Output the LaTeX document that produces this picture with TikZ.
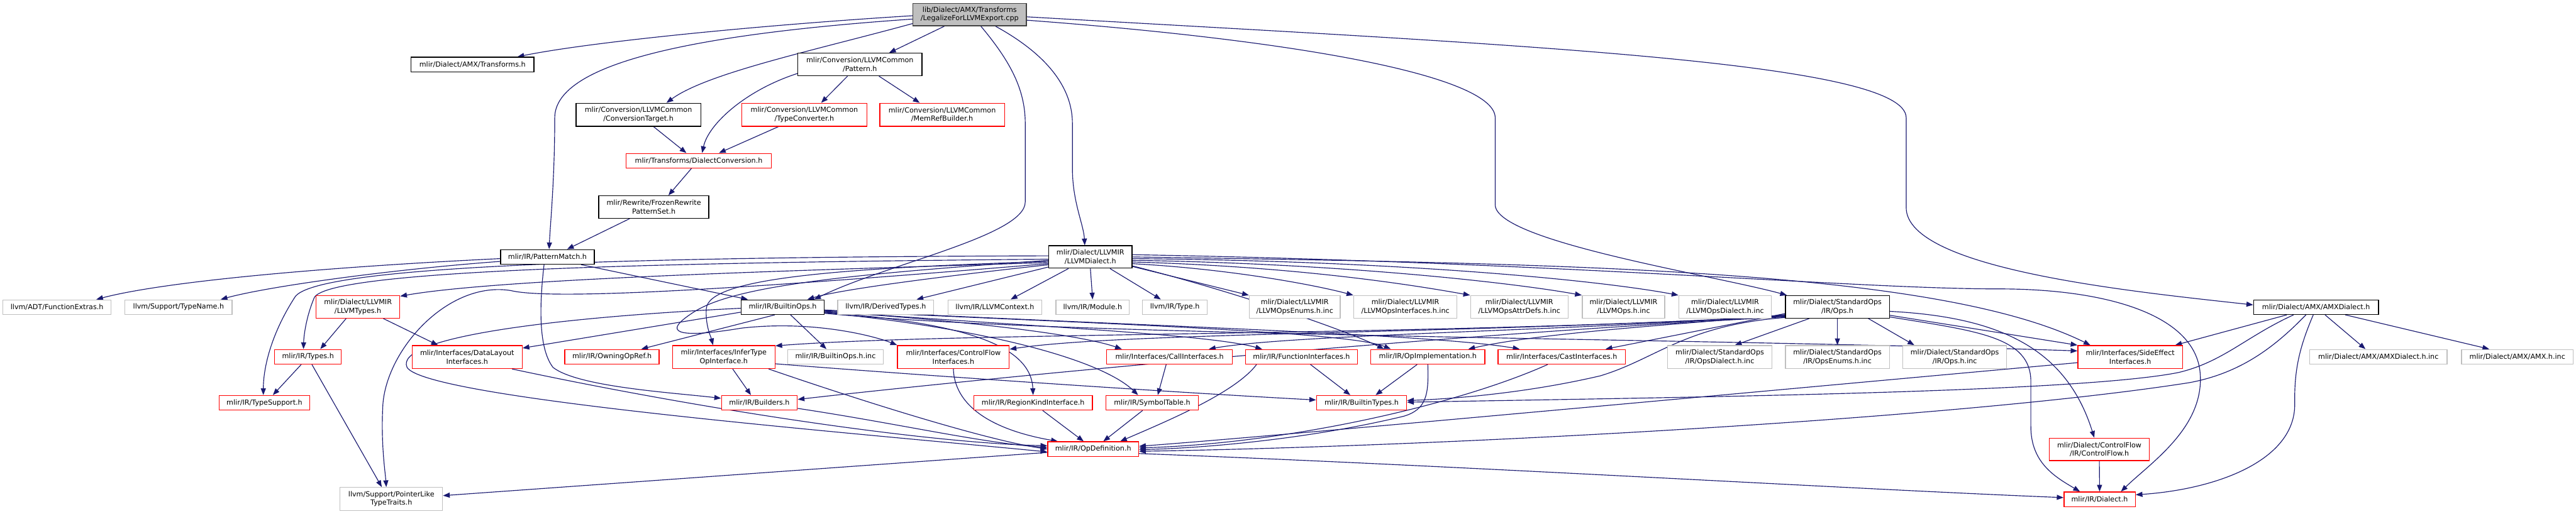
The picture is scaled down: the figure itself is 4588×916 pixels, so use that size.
\documentclass[tikz,border=0pt]{standalone}
\usepackage{fontspec}
\setmainfont{DejaVu Sans}
\usetikzlibrary{arrows.meta}
\definecolor{edgec}{HTML}{191970}
\definecolor{nred}{HTML}{FF0000}
\definecolor{ngray}{HTML}{BFBFBF}
\definecolor{rootdraw}{HTML}{404040}
\pgfdeclarelayer{edgelayer}
\pgfsetlayers{edgelayer,main}
\begin{document}
\begin{tikzpicture}[x=1pt,y=-1pt,
  bx/.style={rectangle, inner sep=0pt, align=center, line width=1.5pt, font=\fontsize{12.5}{15}\selectfont, fill=white},
  nb/.style={bx, draw=black},
  nr/.style={bx, draw=nred},
  ng/.style={bx, draw=ngray},
  nroot/.style={bx, draw=rootdraw, fill=ngray},
  e/.style={draw=edgec, line width=1.3pt, -{Triangle[length=12pt,width=9pt]}}]
\useasboundingbox (0,0) rectangle (4588,916);
% ---------- nodes ----------
\node[nroot, minimum width=202pt, minimum height=40pt] (R) at (1727,26) {lib/Dialect/AMX/Transforms\\/LegalizeForLLVMExport.cpp};
\node[nb, minimum width=219pt, minimum height=26pt] (AMXT) at (841.5,115) {mlir/Dialect/AMX/Transforms.h};
\node[nb, minimum width=221pt, minimum height=40pt] (PAT) at (1531.5,115) {mlir/Conversion/LLVMCommon\\/Pattern.h};
\node[nb, minimum width=222pt, minimum height=41pt] (CT) at (1137,204.5) {mlir/Conversion/LLVMCommon\\/ConversionTarget.h};
\node[nr, minimum width=223pt, minimum height=41pt] (TC) at (1432.5,204.5) {mlir/Conversion/LLVMCommon\\/TypeConverter.h};
\node[nr, minimum width=222pt, minimum height=41pt] (MRB) at (1678,204.5) {mlir/Conversion/LLVMCommon\\/MemRefBuilder.h};
\node[nr, minimum width=259pt, minimum height=26pt] (DC) at (1244.5,286.5) {mlir/Transforms/DialectConversion.h};
\node[nb, minimum width=196pt, minimum height=40pt] (FR) at (1164.5,369) {mlir/Rewrite/FrozenRewrite\\PatternSet.h};
\node[nb, minimum width=167pt, minimum height=26pt] (PM) at (975,458) {mlir/IR/PatternMatch.h};
\node[nb, minimum width=148pt, minimum height=40pt] (LD) at (1942,458) {mlir/Dialect/LLVMIR\\/LLVMDialect.h};
% row 2
\node[ng, minimum width=193pt, minimum height=26pt] (FE) at (101.5,547.5) {llvm/ADT/FunctionExtras.h};
\node[ng, minimum width=191pt, minimum height=26pt] (TN) at (318,547.5) {llvm/Support/TypeName.h};
\node[nr, minimum width=149pt, minimum height=40pt] (LT) at (637.5,547) {mlir/Dialect/LLVMIR\\/LLVMTypes.h};
\node[nb, minimum width=148pt, minimum height=26pt] (BO) at (1394,547.5) {mlir/IR/BuiltinOps.h};
\node[ng, minimum width=171pt, minimum height=26pt] (DT) at (1577.5,547.5) {llvm/IR/DerivedTypes.h};
\node[ng, minimum width=167.5pt, minimum height=26pt] (LC) at (1772,547.5) {llvm/IR/LLVMContext.h};
\node[ng, minimum width=130.5pt, minimum height=26pt] (MOD) at (1946,547.5) {llvm/IR/Module.h};
\node[ng, minimum width=115pt, minimum height=26pt] (TYP) at (2092.5,547.5) {llvm/IR/Type.h};
\node[ng, minimum width=162pt, minimum height=40pt] (OE) at (2306,547) {mlir/Dialect/LLVMIR\\/LLVMOpsEnums.h.inc};
\node[ng, minimum width=184pt, minimum height=40pt] (OIF) at (2503,547) {mlir/Dialect/LLVMIR\\/LLVMOpsInterfaces.h.inc};
\node[ng, minimum width=174pt, minimum height=40pt] (OA) at (2706,547) {mlir/Dialect/LLVMIR\\/LLVMOpsAttrDefs.h.inc};
\node[ng, minimum width=147pt, minimum height=40pt] (LO) at (2891.5,547) {mlir/Dialect/LLVMIR\\/LLVMOps.h.inc};
\node[ng, minimum width=165pt, minimum height=40pt] (LOD) at (3072.5,547) {mlir/Dialect/LLVMIR\\/LLVMOpsDialect.h.inc};
\node[nb, minimum width=185pt, minimum height=40pt] (SO) at (3272.5,547) {mlir/Dialect/StandardOps\\/IR/Ops.h};
\node[nb, minimum width=222.5pt, minimum height=26pt] (AD) at (4125,547.5) {mlir/Dialect/AMX/AMXDialect.h};
% row 3
\node[nr, minimum width=119pt, minimum height=26pt] (TY) at (548.5,636) {mlir/IR/Types.h};
\node[nr, minimum width=196pt, minimum height=41pt] (DL) at (832,636.5) {mlir/Interfaces/DataLayout\\Interfaces.h};
\node[nr, minimum width=168pt, minimum height=26pt] (OOR) at (1090,636) {mlir/IR/OwningOpRef.h};
\node[nr, minimum width=182.5pt, minimum height=41pt] (IT) at (1289,636.5) {mlir/Interfaces/InferType\\OpInterface.h};
\node[ng, minimum width=170.5pt, minimum height=26pt] (BOI) at (1488,636) {mlir/IR/BuiltinOps.h.inc};
\node[nr, minimum width=199pt, minimum height=41pt] (CFI) at (1698,636.5) {mlir/Interfaces/ControlFlow\\Interfaces.h};
\node[nr, minimum width=224pt, minimum height=26pt] (CALL) at (2083,636) {mlir/Interfaces/CallInterfaces.h};
\node[nr, minimum width=200pt, minimum height=26pt] (FI) at (2318,636) {mlir/IR/FunctionInterfaces.h};
\node[nr, minimum width=203pt, minimum height=26pt] (OI) at (2543,636) {mlir/IR/OpImplementation.h};
\node[nr, minimum width=227pt, minimum height=26pt] (CAST) at (2781.5,636) {mlir/Interfaces/CastInterfaces.h};
\node[ng, minimum width=185.5pt, minimum height=41pt] (SOD) at (3063,636.5) {mlir/Dialect/StandardOps\\/IR/OpsDialect.h.inc};
\node[ng, minimum width=185pt, minimum height=41pt] (SOE) at (3272.5,636.5) {mlir/Dialect/StandardOps\\/IR/OpsEnums.h.inc};
\node[ng, minimum width=185pt, minimum height=41pt] (SOI) at (3481.5,636.5) {mlir/Dialect/StandardOps\\/IR/Ops.h.inc};
\node[nr, minimum width=186.5pt, minimum height=41pt] (SE) at (3794,636.5) {mlir/Interfaces/SideEffect\\Interfaces.h};
\node[ng, minimum width=245pt, minimum height=26pt] (ADI) at (4236,636) {mlir/Dialect/AMX/AMXDialect.h.inc};
\node[ng, minimum width=199pt, minimum height=26pt] (AMXI) at (4483.5,636) {mlir/Dialect/AMX/AMX.h.inc};
% row 4
\node[nr, minimum width=161.5pt, minimum height=26pt] (TS) at (471,718) {mlir/IR/TypeSupport.h};
\node[nr, minimum width=135pt, minimum height=26pt] (BLD) at (1352.5,718) {mlir/IR/Builders.h};
\node[nr, minimum width=211.5pt, minimum height=26pt] (RK) at (1840,718) {mlir/IR/RegionKindInterface.h};
\node[nr, minimum width=164pt, minimum height=26pt] (ST) at (2052,718) {mlir/IR/SymbolTable.h};
\node[nr, minimum width=160.5pt, minimum height=26pt] (BT) at (2425,718) {mlir/IR/BuiltinTypes.h};
% row 5/6
\node[nr, minimum width=162pt, minimum height=26pt] (OD) at (1947,800.5) {mlir/IR/OpDefinition.h};
\node[nr, minimum width=178.5pt, minimum height=40pt] (CF) at (3739,801) {mlir/Dialect/ControlFlow\\/IR/ControlFlow.h};
\node[ng, minimum width=182.5pt, minimum height=41pt] (PL) at (697,889.5) {llvm/Support/PointerLike\\TypeTraits.h};
\node[nr, minimum width=127pt, minimum height=26pt] (DI) at (3739.5,890) {mlir/IR/Dialect.h};
% ---------- edges ----------
\begin{pgfonlayer}{edgelayer}
% root
\draw[e] ([yshift=-2pt]R.west) .. controls (1350,45) and (1050,75) .. ([xshift=80pt]AMXT.north);
\draw[e] ([yshift=-8pt]R.west) .. controls (1250,60) and (988,110) .. (988,210) .. controls (988,320) and (980,400) .. ([xshift=3pt]PM.north);
\draw[e] ([yshift=-16pt]R.west) .. controls (1450,90) and (1260,130) .. ([xshift=50pt]CT.north);
\draw[e] ([xshift=-45pt]R.south) -- ([xshift=52pt]PAT.north);
\draw[e] ([xshift=20pt]R.south) .. controls (1800,110) and (1826,160) .. (1826,220) -- (1826,360) .. controls (1826,420) and (1580,470) .. ([xshift=56pt]BO.north);
\draw[e] ([xshift=46pt]R.south) .. controls (1870,100) and (1910,160) .. (1910,220) -- (1910,300) .. controls (1910,360) and (1930,400) .. ([xshift=-10pt]LD.north);
\draw[e] ([yshift=-10pt]R.east) .. controls (2350,75) and (2663,140) .. (2663,210) -- (2663,365) .. controls (2663,430) and (3050,490) .. ([xshift=-90pt]SO.north);
\draw[e] ([yshift=-4pt]R.east) .. controls (2700,80) and (3395,110) .. (3395,210) -- (3395,370) .. controls (3395,480) and (3800,520) .. ([yshift=4pt]AD.west);
% conversion
\draw[e] ([xshift=-22pt]PAT.south) -- ([xshift=30pt]TC.north);
\draw[e] ([xshift=34pt]PAT.south) -- ([xshift=-40pt]MRB.north);
\draw[e] ([yshift=-16pt]PAT.west) .. controls (1330,160) and (1262,220) .. ([xshift=6pt]DC.north);
\draw[e] ([xshift=27pt]CT.south) -- ([xshift=-22pt]DC.north);
\draw[e] ([xshift=-46pt]TC.south) -- ([xshift=36pt]DC.north);
\draw[e] ([xshift=-13pt]DC.south) -- ([xshift=26pt]FR.north);
\draw[e] ([xshift=-43pt]FR.south) -- ([xshift=35pt]PM.north);
% pattern match
\draw[e] ([yshift=-3pt]PM.west) .. controls (600,475) and (300,500) .. ([xshift=70pt]FE.north);
\draw[e] ([yshift=-8pt]PM.west) .. controls (700,480) and (480,510) .. ([xshift=75pt]TN.north);
\draw[e] ([xshift=60pt]PM.south) -- ([xshift=-62pt]BO.north);
\draw[e] ([xshift=-6pt]PM.south) .. controls (961,540) and (958,620) .. (985,655) .. controls (1030,690) and (1200,700) .. ([yshift=8pt]BLD.west);
% LLVM dialect
\draw[e] ([yshift=-10pt]LD.west) .. controls (1500,480) and (900,495) .. ([yshift=19pt]LT.east);
\draw[e] ([yshift=-4pt]LD.west) .. controls (1200,468) and (590,480) .. (560,530) .. controls (545,565) and (541,600) .. ([xshift=-8pt]TY.north);
\draw[e] ([yshift=2pt]LD.west) .. controls (1200,458) and (560,470) .. (525,530) .. controls (480,600) and (469,660) .. ([xshift=-2pt]TS.north);
\draw[e] ([yshift=-14pt]LD.west) .. controls (1700,490) and (1500,515) .. ([xshift=44pt]BO.north);
\draw[e] ([yshift=-18pt]LD.west) -- ([xshift=55pt]DT.north);
\draw[e] ([xshift=-39pt]LD.south) -- ([xshift=28pt]LC.north);
\draw[e] (LD.south) -- (MOD.north);
\draw[e] ([xshift=35pt]LD.south) -- ([xshift=-25pt]TYP.north);
\draw[e] ([yshift=-17pt]LD.east) -- (OE.north west);
\draw[e] ([yshift=-12pt]LD.east) .. controls (2200,480) and (2350,510) .. (OIF.north west);
\draw[e] ([yshift=-9pt]LD.east) .. controls (2300,475) and (2500,505) .. (OA.north west);
\draw[e] ([yshift=-6pt]LD.east) .. controls (2400,470) and (2700,505) .. (LO.north west);
\draw[e] ([yshift=-3pt]LD.east) .. controls (2500,465) and (2850,500) .. (LOD.north west);
\draw[e] (LD.east) .. controls (2800,470) and (3450,480) .. ([xshift=-71pt]SE.north);
\draw[e] ([yshift=4pt]LD.east) .. controls (2800,468) and (3300,515) .. (3560,515) .. controls (3750,515) and (3905,560) .. (3918,660) .. controls (3930,760) and (3830,825) .. ([xshift=38pt]DI.north);
\draw[e] ([yshift=-6pt]LD.west) .. controls (1500,490) and (1300,510) .. (1230,560) .. controls (1170,600) and (1230,600) .. (1320,585) .. controls (1450,570) and (1560,600) .. (CFI.north west);
\draw[e] ([yshift=-8pt]LD.west) .. controls (1500,478) and (1262,495) .. (1258,550) .. controls (1256,580) and (1266,600) .. ([xshift=-19pt]IT.north);
\draw[e] ([yshift=-16pt]LD.east) .. controls (2200,520) and (2400,590) .. ([xshift=-78pt]OI.north);
\draw[e] ([yshift=-12pt]LD.west) .. controls (1500,500) and (1000,540) .. (910,518) .. controls (800,500) and (690,620) .. (682,720) .. controls (678,790) and (686,840) .. ([xshift=-9pt]PL.north);
% builtin ops
\draw[e] ([xshift=-14pt]BO.south) -- ([xshift=52pt]OOR.north);
\draw[e] ([xshift=14pt]BO.south) -- ([xshift=-16pt]BOI.north);
\draw[e] ([yshift=-9pt]BO.west) -- ([yshift=16pt]DL.east);
\draw[e] ([yshift=-2pt]BO.west) .. controls (1000,565) and (700,600) .. (725,655) .. controls (760,710) and (1500,770) .. ([yshift=-5pt]OD.west);
\draw[e] ([yshift=-9pt]BO.east) .. controls (1700,575) and (1836,610) .. (RK.north);
\draw[e] ([yshift=-10pt]BO.east) .. controls (1750,585) and (1960,640) .. ([xshift=-25pt]ST.north);
\draw[e] ([yshift=-8pt]BO.east) .. controls (1700,570) and (1920,595) .. ([xshift=-85pt]CALL.north);
\draw[e] ([yshift=-7pt]BO.east) .. controls (1800,580) and (2150,595) .. ([xshift=-70pt]FI.north);
\draw[e] ([yshift=-6pt]BO.east) .. controls (1900,575) and (2400,590) .. ([xshift=-66pt]OI.north);
\draw[e] ([yshift=-5pt]BO.east) .. controls (2000,580) and (2550,595) .. ([xshift=-75pt]CAST.north);
\draw[e] ([yshift=-11pt]BO.east) .. controls (1900,600) and (3000,602) .. ([yshift=11pt]SE.west);
% lower levels
\draw[e] ([xshift=80pt]DL.south) .. controls (1250,730) and (1650,790) .. ([yshift=6pt]OD.west);
\draw[e] ([xshift=-21pt]LT.south) -- ([xshift=22pt]TY.north);
\draw[e] ([xshift=45pt]LT.south) -- ([xshift=-52pt]DL.north);
\draw[e] ([xshift=-12pt]TY.south) -- ([xshift=15pt]TS.north);
\draw[e] ([xshift=7pt]TY.south) -- ([xshift=-17pt]PL.north);
\draw[e] ([xshift=16pt]IT.south) -- ([xshift=-15pt]BLD.north);
\draw[e] ([yshift=-12pt]IT.east) .. controls (1650,670) and (2100,700) .. ([yshift=5pt]BT.west);
\draw[e] ([xshift=80pt]IT.south) .. controls (1550,720) and (1760,785) .. (OD.west);
\draw[e] (CFI.south) .. controls (1700,720) and (1760,765) .. ([xshift=-63pt]OD.north);
\draw[e] ([xshift=17pt]RK.south) -- ([xshift=-17pt]OD.north);
\draw[e] ([xshift=-17pt]ST.south) -- ([xshift=18pt]OD.north);
\draw[e] ([xshift=-6pt]CALL.south) -- ([xshift=10pt]ST.north);
\draw[e] ([xshift=-80pt]FI.south) .. controls (2200,700) and (2080,750) .. ([xshift=48pt]OD.north);
\draw[e] ([xshift=16pt]FI.south) -- ([xshift=-20pt]BT.north);
\draw[e] ([xshift=-19pt]OI.south) -- ([xshift=25pt]BT.north);
\draw[e] (OI.south) .. controls (2545,705) and (2540,730) .. (2500,742) .. controls (2300,790) and (2100,800) .. ([yshift=-1pt]OD.east);
\draw[e] ([xshift=-25pt]CAST.south) .. controls (2600,720) and (2300,790) .. ([yshift=2pt]OD.east);
\draw[e] ([yshift=-10pt]BLD.east) .. controls (1600,755) and (1750,790) .. ([yshift=3pt]OD.west);
\draw[e] ([yshift=-10pt]SE.west) .. controls (3000,710) and (2300,775) .. ([yshift=5pt]OD.east);
% AMX dialect
\draw[e] ([xshift=-18pt]AD.south) .. controls (4050,620) and (3990,665) .. (3900,682) .. controls (3500,745) and (2600,795) .. ([yshift=-4pt]OD.east);
\draw[e] ([xshift=-40pt]AD.south) .. controls (4000,600) and (3960,645) .. (3880,664) .. controls (3700,700) and (3000,708) .. ([yshift=1pt]BT.east);
\draw[e] ([xshift=-52pt]AD.south) -- ([xshift=80pt]SE.north);
\draw[e] ([xshift=16pt]AD.south) -- ([xshift=-23pt]ADI.north);
\draw[e] ([xshift=52pt]AD.south) -- ([xshift=-50pt]AMXI.north);
\draw[e] ([xshift=-5pt]AD.south) .. controls (4095,620) and (4086,660) .. (4087,720) .. controls (4088,820) and (3950,872) .. ([yshift=8pt]DI.east);
% standard ops
\draw[e] ([xshift=-50pt]SO.south) -- ([xshift=27pt]SOD.north);
\draw[e] (SO.south) -- (SOE.north);
\draw[e] ([xshift=55pt]SO.south) -- ([xshift=-72pt]SOI.north);
\draw[e] ([yshift=-15pt]SO.east) -- (SE.north west);
\draw[e] ([yshift=-8pt]SO.east) .. controls (3560,565) and (3680,620) .. ([xshift=-9pt]CF.north);
\draw[e] ([yshift=-18pt]SO.east) .. controls (3520,590) and (3617,600) .. (3617,680) -- (3617,760) .. controls (3617,825) and (3660,850) .. ([xshift=-35pt]DI.north);
\draw[e] ([yshift=-12pt]SO.west) -- ([xshift=78pt]CAST.north);
\draw[e] ([yshift=-14pt]SO.west) .. controls (3000,578) and (2750,592) .. ([xshift=72pt]OI.north);
\draw[e] ([yshift=-15pt]SO.west) .. controls (2800,590) and (2300,596) .. ([xshift=70pt]CALL.north);
\draw[e] ([yshift=-16pt]SO.west) .. controls (2600,596) and (2000,592) .. ([yshift=14pt]CFI.east);
\draw[e] ([yshift=-17pt]SO.west) .. controls (2500,600) and (1700,592) .. ([yshift=20pt]IT.east);
\draw[e] ([yshift=-18pt]SO.west) .. controls (2500,600) and (1700,680) .. ([yshift=6pt]BLD.east);
\draw[e] ([yshift=-19pt]SO.west) .. controls (3000,580) and (2950,640) .. (2850,670) .. controls (2700,705) and (2560,712) .. ([yshift=4pt]BT.east);
% bottom
\draw[e] (CF.south) -- (DI.north);
\draw[e] ([yshift=-8pt]OD.east) .. controls (2600,830) and (3300,872) .. ([yshift=3pt]DI.west);
\draw[e] ([yshift=-6pt]OD.west) -- ([yshift=6pt]PL.east);
\end{pgfonlayer}
\end{tikzpicture}
\end{document}
